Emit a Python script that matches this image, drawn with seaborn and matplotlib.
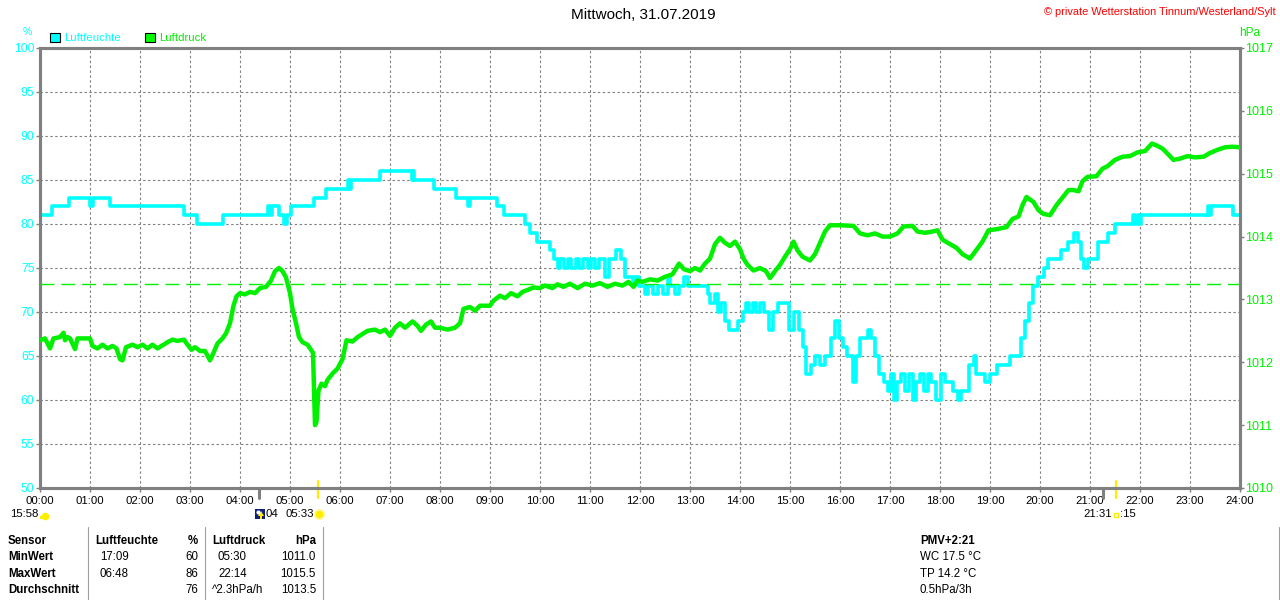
import matplotlib
matplotlib.use("Agg")
import matplotlib.pyplot as plt
import seaborn as sns
import pandas as pd
from matplotlib.lines import Line2D
from matplotlib.patches import Rectangle, Polygon
import matplotlib.transforms as mtrans

# ---------------- data ----------------
hum_t = [0.00, 0.23, 0.57, 1.00, 1.05, 1.40, 2.88, 3.13, 3.66, 4.55, 4.60, 4.63, 4.77, 4.88, 4.93,
         5.02, 5.47, 5.72, 6.15, 6.18, 6.22, 6.80, 7.43, 7.45, 7.48, 7.87, 8.32, 8.55, 8.60, 9.13,
         9.27, 9.70, 9.80, 9.93, 10.20, 10.28, 10.35, 10.40, 10.47, 10.55, 10.62, 10.72, 10.78,
         10.85, 10.95, 11.02, 11.10, 11.18, 11.30, 11.38, 11.52, 11.62, 11.70, 11.85, 11.90, 11.98,
         12.10, 12.15, 12.25, 12.35, 12.45, 12.55, 12.60, 12.70, 12.78, 12.88, 12.95, 13.35, 13.40,
         13.50, 13.55, 13.62, 13.70, 13.78, 13.95, 14.05, 14.12, 14.18, 14.25, 14.32, 14.40, 14.48,
         14.58, 14.65, 14.75, 14.98, 15.08, 15.18, 15.25, 15.32, 15.42, 15.50, 15.60, 15.70, 15.82,
         15.90, 15.98, 16.05, 16.15, 16.25, 16.32, 16.40, 16.55, 16.62, 16.70, 16.78, 16.88, 16.95,
         17.02, 17.08, 17.15, 17.22, 17.30, 17.38, 17.45, 17.52, 17.60, 17.68, 17.75, 17.82, 17.92,
         18.02, 18.10, 18.25, 18.35, 18.42, 18.58, 18.68, 18.72, 18.90, 19.00, 19.15, 19.40, 19.62,
         19.70, 19.78, 19.85, 19.95, 20.08, 20.15, 20.42, 20.55, 20.68, 20.75, 20.82, 20.88, 20.95,
         21.15, 21.35, 21.50, 21.85, 21.90, 21.95, 22.00, 22.02, 23.35, 23.38, 23.42, 23.85, 24.00]
hum_v = [81, 82, 83, 82, 83, 82, 81, 80, 81, 82, 81, 82, 81, 80, 81,
         82, 83, 84, 85, 84, 85, 86, 85, 86, 85, 84, 83, 82, 83, 82,
         81, 80, 79, 78, 77, 76, 75, 76, 75, 76, 75, 76, 75,
         76, 75, 76, 75, 76, 74, 76, 77, 76, 74, 73, 74, 73,
         72, 73, 72, 73, 72, 74, 73, 72, 73, 74, 73, 72, 71,
         72, 70, 71, 69, 68, 69, 70, 71, 70, 71, 70, 71, 70,
         68, 70, 71, 68, 70, 68, 66, 63, 64, 65, 64, 65, 67,
         69, 67, 66, 65, 62, 65, 67, 68, 67, 65, 63, 62, 61,
         63, 60, 62, 63, 61, 63, 60, 62, 63, 61, 63, 62, 60,
         63, 62, 61, 60, 61, 64, 65, 63, 62, 63, 64, 65, 67,
         69, 71, 73, 74, 75, 76, 77, 78, 79, 78, 76, 75, 76,
         78, 79, 80, 81, 80, 81, 80, 81, 82, 81, 82, 81, 81]

pres_t = [0.00, 0.10, 0.15, 0.20, 0.27, 0.40, 0.47, 0.50, 0.55, 0.60, 0.70, 0.75, 0.90, 1.00, 1.05,
          1.15, 1.25, 1.35, 1.45, 1.53, 1.60, 1.65, 1.72, 1.85, 1.95, 2.05, 2.15, 2.25, 2.35, 2.45,
          2.55, 2.65, 2.75, 2.88, 2.95, 3.03, 3.10, 3.20, 3.30, 3.40, 3.47, 3.55, 3.65, 3.72, 3.80,
          3.87, 3.93, 4.00, 4.10, 4.20, 4.30, 4.40, 4.52, 4.62, 4.70, 4.78, 4.85, 4.92, 5.00, 5.05,
          5.12, 5.18, 5.25, 5.35, 5.42, 5.46, 5.50, 5.53, 5.57, 5.63, 5.70, 5.75, 5.85, 5.95, 6.05,
          6.13, 6.25, 6.35, 6.45, 6.55, 6.70, 6.80, 6.90, 7.00, 7.10, 7.20, 7.30, 7.45, 7.55, 7.62,
          7.72, 7.82, 7.90, 8.00, 8.15, 8.30, 8.40, 8.47, 8.60, 8.70, 8.80, 9.00, 9.07, 9.20, 9.30,
          9.42, 9.55, 9.65, 9.75, 9.87, 10.00, 10.10, 10.25, 10.35, 10.47, 10.60, 10.75, 10.90, 11.05,
          11.20, 11.35, 11.50, 11.65, 11.77, 11.87, 11.95, 12.05, 12.20, 12.35, 12.50, 12.65, 12.78,
          12.88, 13.00, 13.10, 13.20, 13.30, 13.40, 13.50, 13.60, 13.70, 13.80, 13.90, 14.00, 14.07,
          14.15, 14.27, 14.40, 14.52, 14.60, 14.70, 14.80, 14.90, 15.00, 15.07, 15.15, 15.25, 15.40,
          15.50, 15.60, 15.70, 15.80, 16.00, 16.27, 16.40, 16.55, 16.70, 16.85, 17.00, 17.15, 17.27,
          17.45, 17.55, 17.70, 17.85, 17.95, 18.05, 18.20, 18.33, 18.45, 18.60, 18.72, 18.85, 18.97,
          19.15, 19.33, 19.45, 19.57, 19.65, 19.73, 19.87, 19.97, 20.07, 20.20, 20.33, 20.45, 20.57,
          20.67, 20.77, 20.85, 20.95, 21.13, 21.25, 21.35, 21.50, 21.65, 21.80, 21.95, 22.10, 22.24,
          22.33, 22.45, 22.55, 22.67, 22.80, 22.95, 23.10, 23.27, 23.40, 23.55, 23.70, 23.85, 24.00]
pres_v = [1012.35, 1012.38, 1012.30, 1012.22, 1012.38, 1012.40, 1012.47, 1012.35, 1012.40, 1012.38,
          1012.21, 1012.38, 1012.38, 1012.38, 1012.26, 1012.22, 1012.28, 1012.22, 1012.26, 1012.22,
          1012.05, 1012.03, 1012.24, 1012.28, 1012.24, 1012.28, 1012.22, 1012.28, 1012.22, 1012.27,
          1012.32, 1012.36, 1012.34, 1012.36, 1012.28, 1012.20, 1012.24, 1012.18, 1012.18, 1012.03,
          1012.15, 1012.30, 1012.38, 1012.46, 1012.62, 1012.90, 1013.05, 1013.10, 1013.08, 1013.12,
          1013.10, 1013.18, 1013.20, 1013.30, 1013.45, 1013.50, 1013.45, 1013.35, 1013.10, 1012.85,
          1012.62, 1012.40, 1012.32, 1012.28, 1012.20, 1012.15, 1011.00, 1011.05, 1011.55, 1011.66,
          1011.62, 1011.72, 1011.82, 1011.90, 1012.05, 1012.35, 1012.33, 1012.40, 1012.45, 1012.50,
          1012.52, 1012.48, 1012.52, 1012.42, 1012.55, 1012.62, 1012.55, 1012.65, 1012.58, 1012.50,
          1012.60, 1012.65, 1012.55, 1012.55, 1012.52, 1012.55, 1012.62, 1012.85, 1012.88, 1012.82,
          1012.90, 1012.90, 1012.98, 1013.06, 1013.02, 1013.10, 1013.05, 1013.12, 1013.15, 1013.19,
          1013.18, 1013.22, 1013.18, 1013.24, 1013.20, 1013.25, 1013.18, 1013.25, 1013.22, 1013.26,
          1013.20, 1013.25, 1013.22, 1013.28, 1013.20, 1013.30, 1013.28, 1013.32, 1013.30, 1013.36,
          1013.40, 1013.57, 1013.48, 1013.45, 1013.50, 1013.46, 1013.57, 1013.65, 1013.88, 1013.98,
          1013.90, 1013.85, 1013.92, 1013.80, 1013.65, 1013.55, 1013.46, 1013.50, 1013.45, 1013.34,
          1013.45, 1013.55, 1013.68, 1013.80, 1013.92, 1013.78, 1013.68, 1013.62, 1013.72, 1013.90,
          1014.08, 1014.18, 1014.18, 1014.17, 1014.05, 1014.02, 1014.05, 1014.00, 1014.00, 1014.05,
          1014.16, 1014.17, 1014.08, 1014.06, 1014.08, 1014.10, 1013.95, 1013.88, 1013.82, 1013.72,
          1013.65, 1013.78, 1013.92, 1014.10, 1014.12, 1014.15, 1014.28, 1014.32, 1014.50, 1014.63,
          1014.55, 1014.42, 1014.36, 1014.34, 1014.50, 1014.62, 1014.74, 1014.74, 1014.72, 1014.88,
          1014.95, 1014.96, 1015.08, 1015.12, 1015.22, 1015.27, 1015.28, 1015.34, 1015.36, 1015.48,
          1015.45, 1015.40, 1015.32, 1015.22, 1015.24, 1015.28, 1015.26, 1015.27, 1015.33, 1015.38,
          1015.42, 1015.43, 1015.42]

hour_labels = ["%02d:00" % h for h in range(25)]
hum_ticks = [50, 55, 60, 65, 70, 75, 80, 85, 90, 95, 100]
pres_ticks = [1010, 1011, 1012, 1013, 1014, 1015, 1016, 1017]
ref_pressure = 1013.25
gray_event_t = [4.38, 21.26]
sun_event_t = [5.55, 21.52]

table_rows = ["Sensor", "MinWert", "MaxWert", "Durchschnitt"]
hum_col_time = ["Luftfeuchte", "17:09", "06:48", ""]
hum_col_val = ["%", "60", "86", "76"]
pres_col_time = ["Luftdruck", "05:30", "22:14", "^2.3hPa/h"]
pres_col_val = ["hPa", "1011.0", "1015.5", "1013.5"]
extra_col = ["PMV+2:21", "WC 17.5 °C", "TP 14.2 °C", "0.5hPa/3h"]

CYAN = "#00FFFF"
GREEN = "#00F000"
GRID = "#808080"
SUN = "#FFEE00"

# ---------------- figure ----------------
sns.set_theme(style="white")
plt.rcParams["font.family"] = ["Liberation Sans", "DejaVu Sans"]

W, H = 1280, 600
fig = plt.figure(figsize=(W / 100, H / 100), dpi=100)
fig.patch.set_facecolor("white")

def fx(px):
    return px / W

def fy(py):
    return 1 - py / H

ax = fig.add_axes([fx(40), fy(488), fx(1200), (488 - 48) / H])
ax2 = ax.twinx()

hum_df = pd.DataFrame({"t": hum_t, "v": hum_v})
pres_df = pd.DataFrame({"t": pres_t, "v": pres_v})

sns.lineplot(data=hum_df, x="t", y="v", ax=ax, color=CYAN, linewidth=2.6,
             drawstyle="steps-post", estimator=None, sort=False, zorder=5)
sns.lineplot(data=pres_df, x="t", y="v", ax=ax2, color=GREEN, linewidth=3.2,
             estimator=None, sort=False, zorder=5)
ax2.axhline(ref_pressure, color=GREEN, linewidth=1.0, dashes=(10, 5), zorder=3)

ax.set_xlim(0, 24)
ax.set_ylim(50, 100)
ax2.set_ylim(1010, 1017)
ax.set_xticks(range(25))
ax.set_xticklabels(hour_labels)
ax.set_yticks(hum_ticks)
ax.set_yticklabels([str(v) for v in hum_ticks])
ax2.set_yticks(pres_ticks)
ax2.set_yticklabels([str(v) for v in pres_ticks])
for a in (ax, ax2):
    a.set_xlabel("")
    a.set_ylabel("")

ax.grid(True, color=GRID, linestyle=(0, (2.2, 2.2)), linewidth=0.8)
ax.set_axisbelow(True)
ax2.grid(False)

for a in (ax, ax2):
    for s in a.spines.values():
        s.set_color(GRID)
        s.set_linewidth(2.2)

ax.tick_params(axis="x", colors=GRID, labelcolor="black", length=3, width=1,
               labelsize=8.2, pad=3, direction="out", bottom=True)
ax.tick_params(axis="y", colors=GRID, labelcolor=CYAN, length=3, width=1,
               labelsize=8.7, pad=1, left=True)
ax2.tick_params(axis="y", colors=GRID, labelcolor=GREEN, length=3, width=1,
                labelsize=9, pad=1, right=True)

# sunrise / sunset markers under the axis
trans = mtrans.blended_transform_factory(ax.transData, ax.transAxes)
for t in gray_event_t:
    ax.plot([t, t], [0.0, -0.022], color=GRID, linewidth=2.2, transform=trans, clip_on=False)
for t in sun_event_t:
    ax.plot([t, t], [0.015, -0.022], color=SUN, linewidth=1.6, transform=trans, clip_on=False)

# ---------------- texts ----------------
fig.text(fx(643), fy(15), "Mittwoch, 31.07.2019", ha="center", va="center", fontsize=11, color="black")
fig.text(fx(1276), fy(12), "© private Wetterstation Tinnum/Westerland/Sylt", ha="right", va="center",
         fontsize=7.9, color="red")
fig.text(fx(27), fy(32), "%", ha="center", va="center", fontsize=7.5, color=CYAN)
fig.text(fx(1250), fy(33), "hPa", ha="center", va="center", fontsize=8.5, color=GREEN)

# legend
fig.add_artist(Rectangle((fx(50), fy(42)), fx(10), 9 / H, facecolor=CYAN, edgecolor="black", linewidth=0.8))
fig.text(fx(64), fy(38), "Luftfeuchte", ha="left", va="center", fontsize=8.2, color=CYAN)
fig.add_artist(Rectangle((fx(145), fy(42)), fx(10), 9 / H, facecolor="#00FF00", edgecolor="black", linewidth=0.8))
fig.text(fx(159), fy(38), "Luftdruck", ha="left", va="center", fontsize=8.2, color=GREEN)

# sun/moon info under the x axis
fig.text(fx(10), fy(514), "15:58", ha="left", va="center", fontsize=8.2, color="black")
fig.add_artist(Line2D([fx(44.5)], [fy(516)], marker="o", markersize=5.5, color=SUN, markeredgewidth=0))
fig.add_artist(Rectangle((fx(40), fy(519)), fx(9), 3 / H, facecolor=SUN, edgecolor="none"))
fig.add_artist(Rectangle((fx(255), fy(519)), fx(10), 10 / H, facecolor="#102080", edgecolor="none"))
fig.add_artist(Line2D([fx(257.5)], [fy(511.5)], marker="o", markersize=3, color="white", markeredgewidth=0))
fig.add_artist(Polygon([(fx(261), fy(511)), (fx(258), fy(516)), (fx(264), fy(516))],
                       closed=True, facecolor=SUN, edgecolor="none"))
fig.add_artist(Rectangle((fx(260), fy(519)), fx(2), 3 / H, facecolor=SUN, edgecolor="none"))
fig.text(fx(265), fy(514), "04", ha="left", va="center", fontsize=8.2, color="black")
fig.text(fx(285), fy(514), "05:33", ha="left", va="center", fontsize=8.2, color="black")
fig.add_artist(Line2D([fx(318.5)], [fy(514)], marker="o", markersize=8, color="#FFF6A0", markeredgewidth=0))
fig.add_artist(Line2D([fx(318.5)], [fy(514)], marker="o", markersize=5.5, color=SUN, markeredgewidth=0))
fig.text(fx(1083), fy(514), "21:31", ha="left", va="center", fontsize=8.2, color="black")
fig.add_artist(Rectangle((fx(1114), fy(517)), fx(4), 4 / H, facecolor="none", edgecolor=SUN, linewidth=1.0))
fig.text(fx(1120), fy(514), ":15", ha="left", va="center", fontsize=8.2, color="black")

# statistics table
row_y = [541, 557, 574, 590]
for i, yy in enumerate(row_y):
    fig.text(fx(8), fy(yy), table_rows[i], ha="left", va="center", fontsize=8.3, fontweight="bold", color="black")
    w = "bold" if i == 0 else "normal"
    xo = 95 if i == 0 else 100
    fig.text(fx(xo), fy(yy), hum_col_time[i], ha="left", va="center", fontsize=8.3, fontweight=w, color="black")
    fig.text(fx(198), fy(yy), hum_col_val[i], ha="right", va="center", fontsize=8.3, fontweight=w, color="black")
    xo2 = 212 if (i == 0 or i == 3) else 218
    fig.text(fx(xo2), fy(yy), pres_col_time[i], ha="left", va="center", fontsize=8.3, fontweight=w, color="black")
    fig.text(fx(316), fy(yy), pres_col_val[i], ha="right", va="center", fontsize=8.3, fontweight=w, color="black")
    fig.text(fx(920), fy(yy), extra_col[i], ha="left", va="center", fontsize=8.3, fontweight=w, color="black")

for xv in (88, 205, 323):
    fig.add_artist(Line2D([fx(xv), fx(xv)], [fy(527), fy(600)], color="#A0A0A0", linewidth=0.8))
fig.add_artist(Line2D([fx(1279), fx(1279)], [fy(527), fy(600)], color="#A0A0A0", linewidth=0.8))

fig.savefig("out.png", dpi=100, facecolor="white")
